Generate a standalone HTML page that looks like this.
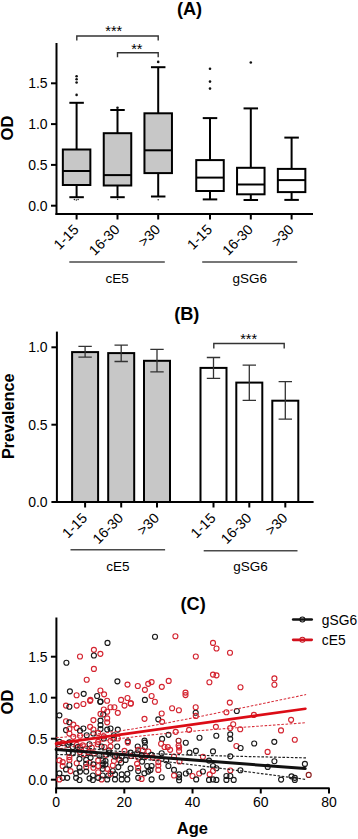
<!DOCTYPE html><html><head><meta charset="utf-8"><style>html,body{margin:0;padding:0;background:#fff;}svg{display:block}text{font-family:"Liberation Sans",sans-serif;fill:#000}</style></head><body>
<svg width="358" height="839" viewBox="0 0 358 839">
<text x="189.5" y="14.8" text-anchor="middle" font-size="18.2" font-weight="bold">(A)</text>
<text transform="translate(13.2,128) rotate(-90)" text-anchor="middle" font-size="16.5" font-weight="bold">OD</text>
<line x1="56.5" y1="43" x2="56.5" y2="215" stroke="#000" stroke-width="2"/>
<line x1="51.0" y1="205.7" x2="56.5" y2="205.7" stroke="#000" stroke-width="2"/>
<text x="47.6" y="210.5" text-anchor="end" font-size="14">0.0</text>
<line x1="51.0" y1="164.9" x2="56.5" y2="164.9" stroke="#000" stroke-width="2"/>
<text x="47.6" y="169.70000000000002" text-anchor="end" font-size="14">0.5</text>
<line x1="51.0" y1="124.1" x2="56.5" y2="124.1" stroke="#000" stroke-width="2"/>
<text x="47.6" y="128.9" text-anchor="end" font-size="14">1.0</text>
<line x1="51.0" y1="83.3" x2="56.5" y2="83.3" stroke="#000" stroke-width="2"/>
<text x="47.6" y="88.1" text-anchor="end" font-size="14">1.5</text>
<line x1="55.5" y1="214" x2="313" y2="214" stroke="#000" stroke-width="2"/>
<line x1="76.6" y1="214" x2="76.6" y2="219.5" stroke="#000" stroke-width="2"/>
<text transform="translate(79.6,230.5) rotate(-45)" text-anchor="end" font-size="14.2">1-15</text>
<line x1="117.5" y1="214" x2="117.5" y2="219.5" stroke="#000" stroke-width="2"/>
<text transform="translate(120.5,230.5) rotate(-45)" text-anchor="end" font-size="14.2">16-30</text>
<line x1="158.2" y1="214" x2="158.2" y2="219.5" stroke="#000" stroke-width="2"/>
<text transform="translate(161.2,230.5) rotate(-45)" text-anchor="end" font-size="14.2">&gt;30</text>
<line x1="210" y1="214" x2="210" y2="219.5" stroke="#000" stroke-width="2"/>
<text transform="translate(213,230.5) rotate(-45)" text-anchor="end" font-size="14.2">1-15</text>
<line x1="250.8" y1="214" x2="250.8" y2="219.5" stroke="#000" stroke-width="2"/>
<text transform="translate(253.8,230.5) rotate(-45)" text-anchor="end" font-size="14.2">16-30</text>
<line x1="291.6" y1="214" x2="291.6" y2="219.5" stroke="#000" stroke-width="2"/>
<text transform="translate(294.6,230.5) rotate(-45)" text-anchor="end" font-size="14.2">&gt;30</text>
<line x1="69.3" y1="262" x2="164.8" y2="262" stroke="#4a4a4a" stroke-width="1.6"/>
<text x="117.05000000000001" y="282.5" text-anchor="middle" font-size="13.5">cE5</text>
<line x1="202.2" y1="262" x2="297.2" y2="262" stroke="#4a4a4a" stroke-width="1.6"/>
<text x="249.7" y="282.5" text-anchor="middle" font-size="13.5">gSG6</text>
<line x1="76.6" y1="102.8" x2="76.6" y2="197.2" stroke="#000" stroke-width="2"/>
<line x1="69.35" y1="102.8" x2="83.85" y2="102.8" stroke="#000" stroke-width="2"/>
<line x1="69.35" y1="197.2" x2="83.85" y2="197.2" stroke="#000" stroke-width="2"/>
<rect x="62.849999999999994" y="149.5" width="27.5" height="35.5" fill="#c7c7c7" stroke="#000" stroke-width="2"/>
<line x1="62.849999999999994" y1="171" x2="90.35" y2="171" stroke="#000" stroke-width="2"/>
<circle cx="76.6" cy="76.2" r="1.3" fill="#111"/>
<circle cx="76.6" cy="79.2" r="1.3" fill="#111"/>
<circle cx="76.6" cy="82.5" r="1.3" fill="#111"/>
<circle cx="76.6" cy="94.9" r="1.3" fill="#111"/>
<line x1="117.5" y1="110" x2="117.5" y2="197.2" stroke="#000" stroke-width="2"/>
<line x1="110.25" y1="110" x2="124.75" y2="110" stroke="#000" stroke-width="2"/>
<line x1="110.25" y1="197.2" x2="124.75" y2="197.2" stroke="#000" stroke-width="2"/>
<rect x="103.75" y="133.2" width="27.5" height="52.30000000000001" fill="#c7c7c7" stroke="#000" stroke-width="2"/>
<line x1="103.75" y1="175.1" x2="131.25" y2="175.1" stroke="#000" stroke-width="2"/>
<circle cx="117.5" cy="107.8" r="1.3" fill="#111"/>
<line x1="158.2" y1="67.2" x2="158.2" y2="196.5" stroke="#000" stroke-width="2"/>
<line x1="150.95" y1="67.2" x2="165.45" y2="67.2" stroke="#000" stroke-width="2"/>
<line x1="150.95" y1="196.5" x2="165.45" y2="196.5" stroke="#000" stroke-width="2"/>
<rect x="144.45" y="113.3" width="27.5" height="59.8" fill="#c7c7c7" stroke="#000" stroke-width="2"/>
<line x1="144.45" y1="150.3" x2="171.95" y2="150.3" stroke="#000" stroke-width="2"/>
<circle cx="158.2" cy="61.9" r="1.3" fill="#111"/>
<line x1="210" y1="118.1" x2="210" y2="199.4" stroke="#000" stroke-width="2"/>
<line x1="202.75" y1="118.1" x2="217.25" y2="118.1" stroke="#000" stroke-width="2"/>
<line x1="202.75" y1="199.4" x2="217.25" y2="199.4" stroke="#000" stroke-width="2"/>
<rect x="196.25" y="160.1" width="27.5" height="30.900000000000006" fill="#fff" stroke="#000" stroke-width="2"/>
<line x1="196.25" y1="177.6" x2="223.75" y2="177.6" stroke="#000" stroke-width="2"/>
<circle cx="210" cy="68.8" r="1.3" fill="#111"/>
<circle cx="210" cy="81.6" r="1.3" fill="#111"/>
<circle cx="210" cy="88.6" r="1.3" fill="#111"/>
<line x1="250.8" y1="108.4" x2="250.8" y2="200" stroke="#000" stroke-width="2"/>
<line x1="243.55" y1="108.4" x2="258.05" y2="108.4" stroke="#000" stroke-width="2"/>
<line x1="243.55" y1="200" x2="258.05" y2="200" stroke="#000" stroke-width="2"/>
<rect x="237.05" y="167.8" width="27.5" height="26.5" fill="#fff" stroke="#000" stroke-width="2"/>
<line x1="237.05" y1="184.5" x2="264.55" y2="184.5" stroke="#000" stroke-width="2"/>
<circle cx="250.8" cy="62.5" r="1.3" fill="#111"/>
<line x1="291.6" y1="137.6" x2="291.6" y2="199.9" stroke="#000" stroke-width="2"/>
<line x1="284.35" y1="137.6" x2="298.85" y2="137.6" stroke="#000" stroke-width="2"/>
<line x1="284.35" y1="199.9" x2="298.85" y2="199.9" stroke="#000" stroke-width="2"/>
<rect x="277.85" y="168.9" width="27.5" height="23.19999999999999" fill="#fff" stroke="#000" stroke-width="2"/>
<line x1="277.85" y1="180.1" x2="305.35" y2="180.1" stroke="#000" stroke-width="2"/>
<circle cx="74.39999999999999" cy="199.6" r="0.75" fill="#222"/>
<circle cx="76.3" cy="199.9" r="0.75" fill="#222"/>
<circle cx="78.1" cy="199.6" r="0.75" fill="#222"/>
<circle cx="117.6" cy="199.3" r="0.75" fill="#222"/>
<circle cx="158.2" cy="199.8" r="0.75" fill="#222"/>
<path d="M76.8 40.5V36H158.2V40.5" fill="none" stroke="#333" stroke-width="1.4"/>
<text x="113.8" y="36.2" text-anchor="middle" font-size="14.5">***</text>
<path d="M117.5 57.2V52.7H158.2V57.2" fill="none" stroke="#333" stroke-width="1.4"/>
<text x="136.8" y="54.1" text-anchor="middle" font-size="14.5">**</text>
<text x="186.8" y="320.2" text-anchor="middle" font-size="18.2" font-weight="bold">(B)</text>
<text transform="translate(13.6,416.3) rotate(-90)" text-anchor="middle" font-size="16.2" font-weight="bold">Prevalence</text>
<line x1="56.9" y1="331.6" x2="56.9" y2="503" stroke="#000" stroke-width="2"/>
<line x1="51.4" y1="502" x2="56.9" y2="502" stroke="#000" stroke-width="2"/>
<text x="47.6" y="506.8" text-anchor="end" font-size="14">0.0</text>
<line x1="51.4" y1="424.7" x2="56.9" y2="424.7" stroke="#000" stroke-width="2"/>
<text x="47.6" y="429.5" text-anchor="end" font-size="14">0.5</text>
<line x1="51.4" y1="347.3" x2="56.9" y2="347.3" stroke="#000" stroke-width="2"/>
<text x="47.6" y="352.1" text-anchor="end" font-size="14">1.0</text>
<rect x="72.1" y="352.1" width="26" height="149.89999999999998" fill="#c7c7c7" stroke="#000" stroke-width="2"/>
<path d="M85.1 346.4V357.2M78.39999999999999 346.4H91.8M78.39999999999999 357.2H91.8" stroke="#333" stroke-width="1.3" fill="none"/>
<rect x="108.2" y="353.1" width="26" height="148.89999999999998" fill="#c7c7c7" stroke="#000" stroke-width="2"/>
<path d="M121.2 345.1V361.5M114.5 345.1H127.9M114.5 361.5H127.9" stroke="#333" stroke-width="1.3" fill="none"/>
<rect x="144.0" y="360.8" width="26" height="141.2" fill="#c7c7c7" stroke="#000" stroke-width="2"/>
<path d="M157 349.4V371.9M150.3 349.4H163.7M150.3 371.9H163.7" stroke="#333" stroke-width="1.3" fill="none"/>
<rect x="200.5" y="367.9" width="26" height="134.10000000000002" fill="#fff" stroke="#000" stroke-width="2"/>
<path d="M213.5 357.5V378.3M206.8 357.5H220.2M206.8 378.3H220.2" stroke="#333" stroke-width="1.3" fill="none"/>
<rect x="236.3" y="382.6" width="26" height="119.39999999999998" fill="#fff" stroke="#000" stroke-width="2"/>
<path d="M249.3 365.2V400.4M242.60000000000002 365.2H256.0M242.60000000000002 400.4H256.0" stroke="#333" stroke-width="1.3" fill="none"/>
<rect x="272.3" y="400.7" width="26" height="101.30000000000001" fill="#fff" stroke="#000" stroke-width="2"/>
<path d="M285.3 381.6V419.2M278.6 381.6H292.0M278.6 419.2H292.0" stroke="#333" stroke-width="1.3" fill="none"/>
<line x1="56" y1="502" x2="313.6" y2="502" stroke="#000" stroke-width="2"/>
<line x1="85.1" y1="502" x2="85.1" y2="507.5" stroke="#000" stroke-width="2"/>
<text transform="translate(88.1,519) rotate(-45)" text-anchor="end" font-size="14.2">1-15</text>
<line x1="121.2" y1="502" x2="121.2" y2="507.5" stroke="#000" stroke-width="2"/>
<text transform="translate(124.2,519) rotate(-45)" text-anchor="end" font-size="14.2">16-30</text>
<line x1="157" y1="502" x2="157" y2="507.5" stroke="#000" stroke-width="2"/>
<text transform="translate(160,519) rotate(-45)" text-anchor="end" font-size="14.2">&gt;30</text>
<line x1="213.5" y1="502" x2="213.5" y2="507.5" stroke="#000" stroke-width="2"/>
<text transform="translate(216.5,519) rotate(-45)" text-anchor="end" font-size="14.2">1-15</text>
<line x1="249.3" y1="502" x2="249.3" y2="507.5" stroke="#000" stroke-width="2"/>
<text transform="translate(252.3,519) rotate(-45)" text-anchor="end" font-size="14.2">16-30</text>
<line x1="285.3" y1="502" x2="285.3" y2="507.5" stroke="#000" stroke-width="2"/>
<text transform="translate(288.3,519) rotate(-45)" text-anchor="end" font-size="14.2">&gt;30</text>
<line x1="70.5" y1="549.8" x2="165.1" y2="549.8" stroke="#4a4a4a" stroke-width="1.6"/>
<text x="117.8" y="570.8" text-anchor="middle" font-size="13.5">cE5</text>
<line x1="203.7" y1="550.7" x2="297.5" y2="550.7" stroke="#4a4a4a" stroke-width="1.6"/>
<text x="250.6" y="570.6" text-anchor="middle" font-size="13.5">gSG6</text>
<path d="M213.8 348.5V343.5H284.2V348.5" fill="none" stroke="#333" stroke-width="1.4"/>
<text x="248.6" y="344" text-anchor="middle" font-size="14.5">***</text>
<text x="193.2" y="609.7" text-anchor="middle" font-size="18.2" font-weight="bold">(C)</text>
<text transform="translate(13.4,702) rotate(-90)" text-anchor="middle" font-size="16.5" font-weight="bold">OD</text>
<line x1="56.4" y1="617.5" x2="56.4" y2="789" stroke="#000" stroke-width="2"/>
<line x1="50.9" y1="779.7" x2="56.4" y2="779.7" stroke="#000" stroke-width="2"/>
<text x="47.6" y="784.5" text-anchor="end" font-size="14">0.0</text>
<line x1="50.9" y1="738.7" x2="56.4" y2="738.7" stroke="#000" stroke-width="2"/>
<text x="47.6" y="743.5" text-anchor="end" font-size="14">0.5</text>
<line x1="50.9" y1="697.7" x2="56.4" y2="697.7" stroke="#000" stroke-width="2"/>
<text x="47.6" y="702.5" text-anchor="end" font-size="14">1.0</text>
<line x1="50.9" y1="656.7" x2="56.4" y2="656.7" stroke="#000" stroke-width="2"/>
<text x="47.6" y="661.5" text-anchor="end" font-size="14">1.5</text>
<line x1="55.4" y1="788.2" x2="329.6" y2="788.2" stroke="#000" stroke-width="2"/>
<line x1="56.1" y1="788.2" x2="56.1" y2="793.5" stroke="#000" stroke-width="2"/>
<text x="56.1" y="806.8" text-anchor="middle" font-size="14">0</text>
<line x1="124.32" y1="788.2" x2="124.32" y2="793.5" stroke="#000" stroke-width="2"/>
<text x="124.32" y="806.8" text-anchor="middle" font-size="14">20</text>
<line x1="192.54" y1="788.2" x2="192.54" y2="793.5" stroke="#000" stroke-width="2"/>
<text x="192.54" y="806.8" text-anchor="middle" font-size="14">40</text>
<line x1="260.76" y1="788.2" x2="260.76" y2="793.5" stroke="#000" stroke-width="2"/>
<text x="260.76" y="806.8" text-anchor="middle" font-size="14">60</text>
<line x1="328.98" y1="788.2" x2="328.98" y2="793.5" stroke="#000" stroke-width="2"/>
<text x="328.98" y="806.8" text-anchor="middle" font-size="14">80</text>
<text x="192.4" y="834" text-anchor="middle" font-size="16.5" font-weight="bold">Age</text>
<line x1="293.2" y1="619.5" x2="311.7" y2="619.5" stroke="#111" stroke-width="2.7" stroke-linecap="round"/>
<circle cx="302.4" cy="619.5" r="2.5" fill="none" stroke="#111" stroke-width="1.1"/>
<text x="321.8" y="625.3" font-size="13.8">gSG6</text>
<line x1="293.2" y1="639.8" x2="311.7" y2="639.8" stroke="#d3101c" stroke-width="2.7" stroke-linecap="round"/>
<circle cx="302.4" cy="639.8" r="2.5" fill="none" stroke="#c81824" stroke-width="1.1"/>
<text x="321.8" y="644.9" font-size="13.8">cE5</text>
<g fill="none" stroke-width="1.15"><circle cx="66.4" cy="662.7" r="2.5" stroke="#1a1a1a"/><circle cx="80.0" cy="656.5" r="2.5" stroke="#d42430"/><circle cx="93.9" cy="649.8" r="2.5" stroke="#d42430"/><circle cx="93.9" cy="655.5" r="2.5" stroke="#1a1a1a"/><circle cx="100.4" cy="653.8" r="2.5" stroke="#d42430"/><circle cx="107.5" cy="642.9" r="2.5" stroke="#1a1a1a"/><circle cx="93.9" cy="668.9" r="2.5" stroke="#d42430"/><circle cx="155.0" cy="636.7" r="2.5" stroke="#1a1a1a"/><circle cx="175.4" cy="636.2" r="2.5" stroke="#d42430"/><circle cx="213.0" cy="642.9" r="2.5" stroke="#d42430"/><circle cx="216.5" cy="648.5" r="2.5" stroke="#d42430"/><circle cx="230.0" cy="652.7" r="2.5" stroke="#d42430"/><circle cx="195.8" cy="656.5" r="2.5" stroke="#d42430"/><circle cx="213.0" cy="674.6" r="2.5" stroke="#d42430"/><circle cx="216.5" cy="675.3" r="2.5" stroke="#d42430"/><circle cx="168.7" cy="680.9" r="2.5" stroke="#d42430"/><circle cx="274.4" cy="678.4" r="2.5" stroke="#d42430"/><circle cx="274.4" cy="684.7" r="2.5" stroke="#d42430"/><circle cx="240.5" cy="687.2" r="2.5" stroke="#d42430"/><circle cx="86.7" cy="679.7" r="2.5" stroke="#d42430"/><circle cx="69.9" cy="691.3" r="2.5" stroke="#1a1a1a"/><circle cx="76.6" cy="695.2" r="2.5" stroke="#d42430"/><circle cx="83.7" cy="693.8" r="2.5" stroke="#1a1a1a"/><circle cx="100.4" cy="690.5" r="2.5" stroke="#d42430"/><circle cx="104.1" cy="694.3" r="2.5" stroke="#d42430"/><circle cx="97.1" cy="696.0" r="2.5" stroke="#1a1a1a"/><circle cx="90.4" cy="699.9" r="2.5" stroke="#d42430"/><circle cx="100.6" cy="701.5" r="2.5" stroke="#1a1a1a"/><circle cx="107.1" cy="700.7" r="2.5" stroke="#d42430"/><circle cx="117.4" cy="681.3" r="2.5" stroke="#1a1a1a"/><circle cx="127.5" cy="684.6" r="2.5" stroke="#d42430"/><circle cx="137.8" cy="686.0" r="2.5" stroke="#d42430"/><circle cx="144.9" cy="689.8" r="2.5" stroke="#d42430"/><circle cx="148.2" cy="683.8" r="2.5" stroke="#d42430"/><circle cx="151.6" cy="682.1" r="2.5" stroke="#d42430"/><circle cx="161.8" cy="686.8" r="2.5" stroke="#d42430"/><circle cx="127.5" cy="698.0" r="2.5" stroke="#d42430"/><circle cx="151.6" cy="696.0" r="2.5" stroke="#d42430"/><circle cx="121.1" cy="699.9" r="2.5" stroke="#d42430"/><circle cx="144.9" cy="699.9" r="2.5" stroke="#1a1a1a"/><circle cx="185.5" cy="692.6" r="2.5" stroke="#d42430"/><circle cx="185.5" cy="695.1" r="2.5" stroke="#d42430"/><circle cx="209.4" cy="682.2" r="2.5" stroke="#d42430"/><circle cx="172.1" cy="708.2" r="2.5" stroke="#d42430"/><circle cx="178.9" cy="710.2" r="2.5" stroke="#d42430"/><circle cx="195.7" cy="707.2" r="2.5" stroke="#d42430"/><circle cx="195.7" cy="712.7" r="2.5" stroke="#1a1a1a"/><circle cx="161.7" cy="713.5" r="2.5" stroke="#d42430"/><circle cx="229.8" cy="702.6" r="2.5" stroke="#d42430"/><circle cx="226.4" cy="712.2" r="2.5" stroke="#d42430"/><circle cx="236.8" cy="711.0" r="2.5" stroke="#1a1a1a"/><circle cx="253.9" cy="714.9" r="2.5" stroke="#d42430"/><circle cx="291.1" cy="719.8" r="2.5" stroke="#d42430"/><circle cx="233.2" cy="724.2" r="2.5" stroke="#d42430"/><circle cx="230.2" cy="728.1" r="2.5" stroke="#d42430"/><circle cx="240.2" cy="729.2" r="2.5" stroke="#d42430"/><circle cx="281.0" cy="730.4" r="2.5" stroke="#d42430"/><circle cx="230.2" cy="734.3" r="2.5" stroke="#1a1a1a"/><circle cx="230.2" cy="738.8" r="2.5" stroke="#1a1a1a"/><circle cx="254.2" cy="743.5" r="2.5" stroke="#1a1a1a"/><circle cx="274.3" cy="741.8" r="2.5" stroke="#1a1a1a"/><circle cx="236.4" cy="746.0" r="2.5" stroke="#d42430"/><circle cx="240.6" cy="748.0" r="2.5" stroke="#1a1a1a"/><circle cx="267.6" cy="751.9" r="2.5" stroke="#d42430"/><circle cx="294.8" cy="739.7" r="2.5" stroke="#d42430"/><circle cx="274.4" cy="761.2" r="2.5" stroke="#1a1a1a"/><circle cx="267.7" cy="766.9" r="2.5" stroke="#1a1a1a"/><circle cx="304.9" cy="763.9" r="2.5" stroke="#1a1a1a"/><circle cx="308.7" cy="774.9" r="2.5" stroke="#8a1a1a"/><circle cx="281.1" cy="779.6" r="2.5" stroke="#1a1a1a"/><circle cx="291.5" cy="776.3" r="2.5" stroke="#1a1a1a"/><circle cx="294.8" cy="777.8" r="2.5" stroke="#1a1a1a"/><circle cx="294.8" cy="779.9" r="2.5" stroke="#1a1a1a"/><circle cx="213.0" cy="751.4" r="2.5" stroke="#1a1a1a"/><circle cx="230.3" cy="756.3" r="2.5" stroke="#1a1a1a"/><circle cx="209.0" cy="760.6" r="2.5" stroke="#1a1a1a"/><circle cx="213.0" cy="766.0" r="2.5" stroke="#1a1a1a"/><circle cx="216.4" cy="768.2" r="2.5" stroke="#1a1a1a"/><circle cx="213.0" cy="771.0" r="2.5" stroke="#d42430"/><circle cx="209.7" cy="774.4" r="2.5" stroke="#d42430"/><circle cx="230.3" cy="770.5" r="2.5" stroke="#d42430"/><circle cx="240.4" cy="770.2" r="2.5" stroke="#1a1a1a"/><circle cx="209.0" cy="779.9" r="2.5" stroke="#1a1a1a"/><circle cx="213.0" cy="779.4" r="2.5" stroke="#1a1a1a"/><circle cx="216.4" cy="779.9" r="2.5" stroke="#1a1a1a"/><circle cx="226.4" cy="776.0" r="2.5" stroke="#1a1a1a"/><circle cx="230.3" cy="776.0" r="2.5" stroke="#1a1a1a"/><circle cx="226.4" cy="779.9" r="2.5" stroke="#1a1a1a"/><circle cx="233.7" cy="779.9" r="2.5" stroke="#1a1a1a"/><circle cx="195.8" cy="715.9" r="2.5" stroke="#d42430"/><circle cx="215.9" cy="726.8" r="2.5" stroke="#d42430"/><circle cx="189.1" cy="729.8" r="2.5" stroke="#d42430"/><circle cx="175.7" cy="731.8" r="2.5" stroke="#d42430"/><circle cx="168.5" cy="734.8" r="2.5" stroke="#1a1a1a"/><circle cx="199.5" cy="737.7" r="2.5" stroke="#1a1a1a"/><circle cx="216.3" cy="735.7" r="2.5" stroke="#1a1a1a"/><circle cx="178.6" cy="740.7" r="2.5" stroke="#8a1a1a"/><circle cx="185.8" cy="742.7" r="2.5" stroke="#1a1a1a"/><circle cx="178.6" cy="745.5" r="2.5" stroke="#d42430"/><circle cx="179.1" cy="747.5" r="2.5" stroke="#d42430"/><circle cx="179.1" cy="750.9" r="2.5" stroke="#d42430"/><circle cx="195.9" cy="750.9" r="2.5" stroke="#1a1a1a"/><circle cx="189.5" cy="752.6" r="2.5" stroke="#1a1a1a"/><circle cx="202.9" cy="756.8" r="2.5" stroke="#d42430"/><circle cx="179.5" cy="761.5" r="2.5" stroke="#d42430"/><circle cx="179.1" cy="774.4" r="2.5" stroke="#1a1a1a"/><circle cx="179.1" cy="777.2" r="2.5" stroke="#1a1a1a"/><circle cx="179.1" cy="780.2" r="2.5" stroke="#1a1a1a"/><circle cx="185.8" cy="773.5" r="2.5" stroke="#1a1a1a"/><circle cx="189.2" cy="771.5" r="2.5" stroke="#1a1a1a"/><circle cx="192.5" cy="776.0" r="2.5" stroke="#d42430"/><circle cx="196.2" cy="779.4" r="2.5" stroke="#1a1a1a"/><circle cx="199.2" cy="773.5" r="2.5" stroke="#d42430"/><circle cx="202.9" cy="771.5" r="2.5" stroke="#1a1a1a"/><circle cx="130.8" cy="703.4" r="2.5" stroke="#d42430"/><circle cx="154.9" cy="701.7" r="2.5" stroke="#d42430"/><circle cx="144.5" cy="718.8" r="2.5" stroke="#d42430"/><circle cx="158.3" cy="719.3" r="2.5" stroke="#1a1a1a"/><circle cx="162.1" cy="721.8" r="2.5" stroke="#d42430"/><circle cx="144.5" cy="740.6" r="2.5" stroke="#1a1a1a"/><circle cx="162.1" cy="738.9" r="2.5" stroke="#1a1a1a"/><circle cx="103.8" cy="709.5" r="2.5" stroke="#d42430"/><circle cx="107.2" cy="711.7" r="2.5" stroke="#d42430"/><circle cx="110.5" cy="707.2" r="2.5" stroke="#d42430"/><circle cx="114.4" cy="707.2" r="2.5" stroke="#d42430"/><circle cx="117.8" cy="712.8" r="2.5" stroke="#d42430"/><circle cx="124.5" cy="705.6" r="2.5" stroke="#d42430"/><circle cx="103.3" cy="714.5" r="2.5" stroke="#1a1a1a"/><circle cx="100.5" cy="713.9" r="2.5" stroke="#d42430"/><circle cx="107.2" cy="718.4" r="2.5" stroke="#d42430"/><circle cx="107.2" cy="722.3" r="2.5" stroke="#d42430"/><circle cx="100.5" cy="720.6" r="2.5" stroke="#1a1a1a"/><circle cx="100.5" cy="725.1" r="2.5" stroke="#1a1a1a"/><circle cx="100.5" cy="729.0" r="2.5" stroke="#1a1a1a"/><circle cx="107.2" cy="729.6" r="2.5" stroke="#1a1a1a"/><circle cx="110.5" cy="728.5" r="2.5" stroke="#1a1a1a"/><circle cx="117.8" cy="729.6" r="2.5" stroke="#1a1a1a"/><circle cx="103.8" cy="736.3" r="2.5" stroke="#d42430"/><circle cx="103.8" cy="738.5" r="2.5" stroke="#1a1a1a"/><circle cx="113.9" cy="735.2" r="2.5" stroke="#1a1a1a"/><circle cx="113.9" cy="738.5" r="2.5" stroke="#1a1a1a"/><circle cx="117.8" cy="738.5" r="2.5" stroke="#d42430"/><circle cx="110.5" cy="740.8" r="2.5" stroke="#d42430"/><circle cx="127.8" cy="741.3" r="2.5" stroke="#1a1a1a"/><circle cx="98.2" cy="732.9" r="2.5" stroke="#d42430"/><circle cx="98.2" cy="741.9" r="2.5" stroke="#d42430"/><circle cx="130.8" cy="703.4" r="2.5" stroke="#d42430"/><circle cx="66.0" cy="705.6" r="2.5" stroke="#d42430"/><circle cx="69.4" cy="706.7" r="2.5" stroke="#1a1a1a"/><circle cx="76.7" cy="705.6" r="2.5" stroke="#d42430"/><circle cx="83.4" cy="704.0" r="2.5" stroke="#d42430"/><circle cx="59.4" cy="715.3" r="2.5" stroke="#1a1a1a"/><circle cx="66.0" cy="721.2" r="2.5" stroke="#d42430"/><circle cx="69.4" cy="722.3" r="2.5" stroke="#1a1a1a"/><circle cx="73.3" cy="724.6" r="2.5" stroke="#d42430"/><circle cx="76.7" cy="727.9" r="2.5" stroke="#d42430"/><circle cx="66.0" cy="730.1" r="2.5" stroke="#1a1a1a"/><circle cx="69.4" cy="729.0" r="2.5" stroke="#d42430"/><circle cx="69.4" cy="733.5" r="2.5" stroke="#d42430"/><circle cx="73.3" cy="736.8" r="2.5" stroke="#d42430"/><circle cx="80.0" cy="730.7" r="2.5" stroke="#1a1a1a"/><circle cx="83.4" cy="728.5" r="2.5" stroke="#1a1a1a"/><circle cx="80.0" cy="735.7" r="2.5" stroke="#d42430"/><circle cx="86.7" cy="735.2" r="2.5" stroke="#1a1a1a"/><circle cx="90.1" cy="726.8" r="2.5" stroke="#d42430"/><circle cx="93.4" cy="720.1" r="2.5" stroke="#d42430"/><circle cx="93.4" cy="733.5" r="2.5" stroke="#1a1a1a"/><circle cx="93.4" cy="729.5" r="2.5" stroke="#d42430"/><circle cx="59.4" cy="741.9" r="2.5" stroke="#1a1a1a"/><circle cx="69.4" cy="742.4" r="2.5" stroke="#1a1a1a"/><circle cx="90.1" cy="700.8" r="2.5" stroke="#d42430"/><circle cx="100.2" cy="701.8" r="2.5" stroke="#1a1a1a"/><circle cx="97.7" cy="744.2" r="2.5" stroke="#d42430"/><circle cx="117.2" cy="746.5" r="2.5" stroke="#1a1a1a"/><circle cx="127.8" cy="742.6" r="2.5" stroke="#d42430"/><circle cx="124.5" cy="750.9" r="2.5" stroke="#d42430"/><circle cx="131.2" cy="756.0" r="2.5" stroke="#d42430"/><circle cx="125.6" cy="759.9" r="2.5" stroke="#1a1a1a"/><circle cx="113.9" cy="761.0" r="2.5" stroke="#d42430"/><circle cx="119.5" cy="759.9" r="2.5" stroke="#d42430"/><circle cx="121.1" cy="762.7" r="2.5" stroke="#1a1a1a"/><circle cx="118.3" cy="767.1" r="2.5" stroke="#1a1a1a"/><circle cx="130.6" cy="768.3" r="2.5" stroke="#1a1a1a"/><circle cx="127.3" cy="773.8" r="2.5" stroke="#1a1a1a"/><circle cx="121.7" cy="774.4" r="2.5" stroke="#1a1a1a"/><circle cx="127.3" cy="779.4" r="2.5" stroke="#1a1a1a"/><circle cx="121.7" cy="779.4" r="2.5" stroke="#1a1a1a"/><circle cx="115.0" cy="779.4" r="2.5" stroke="#1a1a1a"/><circle cx="115.0" cy="774.4" r="2.5" stroke="#1a1a1a"/><circle cx="107.2" cy="779.4" r="2.5" stroke="#1a1a1a"/><circle cx="101.6" cy="779.4" r="2.5" stroke="#d42430"/><circle cx="108.3" cy="775.5" r="2.5" stroke="#1a1a1a"/><circle cx="110.5" cy="773.8" r="2.5" stroke="#d42430"/><circle cx="102.7" cy="775.5" r="2.5" stroke="#1a1a1a"/><circle cx="98.2" cy="777.8" r="2.5" stroke="#1a1a1a"/><circle cx="98.2" cy="772.2" r="2.5" stroke="#d42430"/><circle cx="112.8" cy="771.0" r="2.5" stroke="#1a1a1a"/><circle cx="102.7" cy="768.8" r="2.5" stroke="#1a1a1a"/><circle cx="107.2" cy="768.8" r="2.5" stroke="#d42430"/><circle cx="102.7" cy="760.4" r="2.5" stroke="#1a1a1a"/><circle cx="102.7" cy="763.2" r="2.5" stroke="#1a1a1a"/><circle cx="102.7" cy="765.5" r="2.5" stroke="#1a1a1a"/><circle cx="105.5" cy="761.0" r="2.5" stroke="#1a1a1a"/><circle cx="105.5" cy="764.3" r="2.5" stroke="#1a1a1a"/><circle cx="112.8" cy="765.5" r="2.5" stroke="#d42430"/><circle cx="98.2" cy="760.4" r="2.5" stroke="#d42430"/><circle cx="98.2" cy="766.0" r="2.5" stroke="#d42430"/><circle cx="99.4" cy="755.4" r="2.5" stroke="#1a1a1a"/><circle cx="106.1" cy="754.8" r="2.5" stroke="#d42430"/><circle cx="108.8" cy="750.4" r="2.5" stroke="#1a1a1a"/><circle cx="109.4" cy="753.2" r="2.5" stroke="#1a1a1a"/><circle cx="104.4" cy="747.0" r="2.5" stroke="#d42430"/><circle cx="101.6" cy="746.5" r="2.5" stroke="#1a1a1a"/><circle cx="110.5" cy="746.5" r="2.5" stroke="#d42430"/><circle cx="116.7" cy="755.4" r="2.5" stroke="#d42430"/><circle cx="115.0" cy="756.5" r="2.5" stroke="#1a1a1a"/><circle cx="121.7" cy="756.5" r="2.5" stroke="#1a1a1a"/><circle cx="130.6" cy="752.6" r="2.5" stroke="#1a1a1a"/><circle cx="58.2" cy="744.2" r="2.5" stroke="#d42430"/><circle cx="62.7" cy="743.1" r="2.5" stroke="#d42430"/><circle cx="68.3" cy="744.8" r="2.5" stroke="#1a1a1a"/><circle cx="72.8" cy="747.0" r="2.5" stroke="#1a1a1a"/><circle cx="76.7" cy="744.8" r="2.5" stroke="#d42430"/><circle cx="80.0" cy="747.6" r="2.5" stroke="#d42430"/><circle cx="77.8" cy="747.0" r="2.5" stroke="#1a1a1a"/><circle cx="82.8" cy="745.4" r="2.5" stroke="#d42430"/><circle cx="85.6" cy="748.7" r="2.5" stroke="#d42430"/><circle cx="89.5" cy="744.2" r="2.5" stroke="#1a1a1a"/><circle cx="91.8" cy="747.6" r="2.5" stroke="#d42430"/><circle cx="88.4" cy="752.1" r="2.5" stroke="#d42430"/><circle cx="94.0" cy="753.2" r="2.5" stroke="#d42430"/><circle cx="72.8" cy="753.2" r="2.5" stroke="#1a1a1a"/><circle cx="68.8" cy="752.6" r="2.5" stroke="#1a1a1a"/><circle cx="80.0" cy="752.1" r="2.5" stroke="#d42430"/><circle cx="83.9" cy="754.3" r="2.5" stroke="#d42430"/><circle cx="69.4" cy="757.1" r="2.5" stroke="#d42430"/><circle cx="59.4" cy="760.4" r="2.5" stroke="#d42430"/><circle cx="62.7" cy="762.1" r="2.5" stroke="#d42430"/><circle cx="62.7" cy="766.0" r="2.5" stroke="#d42430"/><circle cx="69.4" cy="764.9" r="2.5" stroke="#1a1a1a"/><circle cx="69.4" cy="759.9" r="2.5" stroke="#d42430"/><circle cx="76.7" cy="763.2" r="2.5" stroke="#d42430"/><circle cx="79.5" cy="758.8" r="2.5" stroke="#1a1a1a"/><circle cx="79.5" cy="767.7" r="2.5" stroke="#1a1a1a"/><circle cx="86.2" cy="759.9" r="2.5" stroke="#1a1a1a"/><circle cx="86.2" cy="763.8" r="2.5" stroke="#1a1a1a"/><circle cx="86.2" cy="767.1" r="2.5" stroke="#d42430"/><circle cx="86.2" cy="771.6" r="2.5" stroke="#1a1a1a"/><circle cx="89.5" cy="762.7" r="2.5" stroke="#d42430"/><circle cx="90.6" cy="757.6" r="2.5" stroke="#1a1a1a"/><circle cx="93.4" cy="764.3" r="2.5" stroke="#1a1a1a"/><circle cx="93.4" cy="767.7" r="2.5" stroke="#d42430"/><circle cx="66.0" cy="769.4" r="2.5" stroke="#1a1a1a"/><circle cx="70.5" cy="771.1" r="2.5" stroke="#d42430"/><circle cx="59.4" cy="773.3" r="2.5" stroke="#1a1a1a"/><circle cx="76.1" cy="773.3" r="2.5" stroke="#1a1a1a"/><circle cx="80.0" cy="771.6" r="2.5" stroke="#1a1a1a"/><circle cx="62.7" cy="777.8" r="2.5" stroke="#1a1a1a"/><circle cx="59.4" cy="779.4" r="2.5" stroke="#d42430"/><circle cx="67.2" cy="777.8" r="2.5" stroke="#1a1a1a"/><circle cx="76.1" cy="777.8" r="2.5" stroke="#1a1a1a"/><circle cx="79.5" cy="780.0" r="2.5" stroke="#1a1a1a"/><circle cx="89.5" cy="778.3" r="2.5" stroke="#1a1a1a"/><circle cx="92.9" cy="780.0" r="2.5" stroke="#1a1a1a"/><circle cx="92.9" cy="775.5" r="2.5" stroke="#1a1a1a"/><circle cx="144.9" cy="742.6" r="2.5" stroke="#1a1a1a"/><circle cx="161.1" cy="743.7" r="2.5" stroke="#d42430"/><circle cx="164.5" cy="747.0" r="2.5" stroke="#d42430"/><circle cx="167.8" cy="747.0" r="2.5" stroke="#d42430"/><circle cx="170.1" cy="749.8" r="2.5" stroke="#d42430"/><circle cx="137.7" cy="746.5" r="2.5" stroke="#1a1a1a"/><circle cx="144.9" cy="747.0" r="2.5" stroke="#1a1a1a"/><circle cx="138.2" cy="749.8" r="2.5" stroke="#d42430"/><circle cx="142.7" cy="750.4" r="2.5" stroke="#d42430"/><circle cx="148.3" cy="751.5" r="2.5" stroke="#d42430"/><circle cx="151.6" cy="754.8" r="2.5" stroke="#1a1a1a"/><circle cx="161.7" cy="753.2" r="2.5" stroke="#1a1a1a"/><circle cx="137.1" cy="753.2" r="2.5" stroke="#1a1a1a"/><circle cx="141.6" cy="755.4" r="2.5" stroke="#1a1a1a"/><circle cx="138.2" cy="757.6" r="2.5" stroke="#d42430"/><circle cx="146.1" cy="756.0" r="2.5" stroke="#d42430"/><circle cx="152.8" cy="757.6" r="2.5" stroke="#d42430"/><circle cx="142.1" cy="761.6" r="2.5" stroke="#1a1a1a"/><circle cx="166.2" cy="760.4" r="2.5" stroke="#1a1a1a"/><circle cx="168.4" cy="766.0" r="2.5" stroke="#1a1a1a"/><circle cx="158.3" cy="762.1" r="2.5" stroke="#d42430"/><circle cx="158.3" cy="765.5" r="2.5" stroke="#d42430"/><circle cx="158.3" cy="769.9" r="2.5" stroke="#d42430"/><circle cx="174.0" cy="756.5" r="2.5" stroke="#d42430"/><circle cx="174.0" cy="769.9" r="2.5" stroke="#1a1a1a"/><circle cx="174.0" cy="775.5" r="2.5" stroke="#d42430"/><circle cx="147.2" cy="766.0" r="2.5" stroke="#1a1a1a"/><circle cx="151.6" cy="766.0" r="2.5" stroke="#1a1a1a"/><circle cx="150.5" cy="769.9" r="2.5" stroke="#1a1a1a"/><circle cx="148.3" cy="771.6" r="2.5" stroke="#1a1a1a"/><circle cx="144.4" cy="773.3" r="2.5" stroke="#1a1a1a"/><circle cx="138.2" cy="771.1" r="2.5" stroke="#1a1a1a"/><circle cx="138.2" cy="767.7" r="2.5" stroke="#d42430"/><circle cx="138.2" cy="777.8" r="2.5" stroke="#1a1a1a"/><circle cx="141.6" cy="778.9" r="2.5" stroke="#d42430"/><circle cx="151.6" cy="779.4" r="2.5" stroke="#1a1a1a"/><circle cx="161.7" cy="777.2" r="2.5" stroke="#1a1a1a"/><circle cx="137.1" cy="763.8" r="2.5" stroke="#d42430"/></g>
<path d="M56.1,737.79 L61.1,737.36 L66.1,736.91 L71.1,736.46 L76.1,735.98 L81.1,735.50 L86.1,734.99 L91.1,734.46 L96.1,733.91 L101.1,733.33 L106.1,732.72 L111.1,732.08 L116.1,731.41 L121.1,730.71 L126.1,729.97 L131.1,729.20 L136.1,728.40 L141.1,727.57 L146.1,726.71 L151.1,725.83 L156.1,724.93 L161.1,724.01 L166.1,723.08 L171.1,722.13 L176.1,721.17 L181.1,720.20 L186.1,719.22 L191.1,718.23 L196.1,717.24 L201.1,716.24 L206.1,715.23 L211.1,714.22 L216.1,713.20 L221.1,712.18 L226.1,711.16 L231.1,710.14 L236.1,709.11 L241.1,708.08 L246.1,707.05 L251.1,706.01 L256.1,704.97 L261.1,703.94 L266.1,702.90 L271.1,701.86 L276.1,700.82 L281.1,699.77 L286.1,698.73 L291.1,697.68 L296.1,696.64 L301.1,695.59 L306.1,694.54" fill="none" stroke="#d8303c" stroke-width="1.05" stroke-dasharray="2.6 1.6"/>
<path d="M56.1,744.58 L61.1,745.20 L66.1,745.80 L71.1,746.40 L76.1,746.98 L81.1,747.56 L86.1,748.12 L91.1,748.67 L96.1,749.21 L101.1,749.72 L106.1,750.22 L111.1,750.69 L116.1,751.14 L121.1,751.55 L126.1,751.95 L131.1,752.31 L136.1,752.64 L141.1,752.95 L146.1,753.24 L151.1,753.50 L156.1,753.74 L161.1,753.97 L166.1,754.17 L171.1,754.37 L176.1,754.55 L181.1,754.73 L186.1,754.90 L191.1,755.05 L196.1,755.21 L201.1,755.35 L206.1,755.49 L211.1,755.63 L216.1,755.77 L221.1,755.90 L226.1,756.02 L231.1,756.15 L236.1,756.27 L241.1,756.39 L246.1,756.51 L251.1,756.63 L256.1,756.74 L261.1,756.86 L266.1,756.97 L271.1,757.08 L276.1,757.20 L281.1,757.31 L286.1,757.42 L291.1,757.52 L296.1,757.63 L301.1,757.74 L306.1,757.85" fill="none" stroke="#222" stroke-width="1.2" stroke-dasharray="2.6 1.6"/>
<path d="M56.1,749.61 L61.1,748.64 L66.1,747.68 L71.1,746.74 L76.1,745.81 L81.1,744.89 L86.1,744.00 L91.1,743.12 L96.1,742.27 L101.1,741.45 L106.1,740.66 L111.1,739.89 L116.1,739.16 L121.1,738.47 L126.1,737.80 L131.1,737.17 L136.1,736.57 L141.1,736.00 L146.1,735.45 L151.1,734.93 L156.1,734.43 L161.1,733.94 L166.1,733.48 L171.1,733.02 L176.1,732.58 L181.1,732.15 L186.1,731.73 L191.1,731.31 L196.1,730.91 L201.1,730.51 L206.1,730.11 L211.1,729.72 L216.1,729.33 L221.1,728.95 L226.1,728.57 L231.1,728.19 L236.1,727.82 L241.1,727.45 L246.1,727.08 L251.1,726.71 L256.1,726.35 L261.1,725.98 L266.1,725.62 L271.1,725.26 L276.1,724.90 L281.1,724.54 L286.1,724.18 L291.1,723.82 L296.1,723.47 L301.1,723.11 L306.1,722.76" fill="none" stroke="#d8303c" stroke-width="1.05" stroke-dasharray="2.6 1.6"/>
<path d="M56.1,754.42 L61.1,754.57 L66.1,754.73 L71.1,754.90 L76.1,755.08 L81.1,755.27 L86.1,755.47 L91.1,755.69 L96.1,755.92 L101.1,756.17 L106.1,756.44 L111.1,756.74 L116.1,757.06 L121.1,757.40 L126.1,757.78 L131.1,758.18 L136.1,758.61 L141.1,759.07 L146.1,759.55 L151.1,760.06 L156.1,760.58 L161.1,761.12 L166.1,761.68 L171.1,762.25 L176.1,762.83 L181.1,763.42 L186.1,764.02 L191.1,764.63 L196.1,765.24 L201.1,765.86 L206.1,766.49 L211.1,767.11 L216.1,767.75 L221.1,768.38 L226.1,769.02 L231.1,769.66 L236.1,770.30 L241.1,770.95 L246.1,771.60 L251.1,772.25 L256.1,772.90 L261.1,773.55 L266.1,774.20 L271.1,774.85 L276.1,775.51 L281.1,776.16 L286.1,776.82 L291.1,777.48 L296.1,778.14 L301.1,778.79 L306.1,779.45" fill="none" stroke="#222" stroke-width="1.2" stroke-dasharray="2.6 1.6"/>
<line x1="56.1" y1="743.7" x2="305.4" y2="708.74814" stroke="#dc0c16" stroke-width="2.7" stroke-linecap="round"/>
<line x1="56.1" y1="749.5" x2="305.2" y2="768.58106" stroke="#111" stroke-width="3" stroke-linecap="round"/>
</svg></body></html>
